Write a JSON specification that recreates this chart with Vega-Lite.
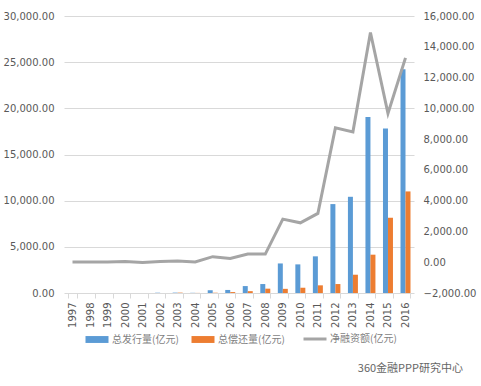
{
  "$schema": "https://vega.github.io/schema/vega-lite/v6.json",
  "width": 350,
  "height": 277,
  "autosize": {"type": "none"},
  "padding": {"left": 64, "top": 16, "right": 67, "bottom": 93},
  "background": "white",
  "config": {
    "font": "Noto Sans CJK SC",
    "view": {"stroke": null},
    "axis": {"labelColor": "#595959", "labelFontSize": 10, "labelFont": "DejaVu Sans"}
  },
  "title": {
    "text": "360金融PPP研究中心",
    "orient": "bottom",
    "anchor": "end",
    "align": "right",
    "frame": "group",
    "fontSize": 11,
    "fontWeight": "normal",
    "color": "#666666",
    "offset": 18,
    "dx": 49
  },
  "data": {
    "values": [
      {"year": "1997", "series": "总发行量(亿元)", "value": 0},
      {"year": "1998", "series": "总发行量(亿元)", "value": 0},
      {"year": "1999", "series": "总发行量(亿元)", "value": 0},
      {"year": "2000", "series": "总发行量(亿元)", "value": 0},
      {"year": "2001", "series": "总发行量(亿元)", "value": 0},
      {"year": "2002", "series": "总发行量(亿元)", "value": 30},
      {"year": "2003", "series": "总发行量(亿元)", "value": 40},
      {"year": "2004", "series": "总发行量(亿元)", "value": 20},
      {"year": "2005", "series": "总发行量(亿元)", "value": 300},
      {"year": "2006", "series": "总发行量(亿元)", "value": 330},
      {"year": "2007", "series": "总发行量(亿元)", "value": 750},
      {"year": "2008", "series": "总发行量(亿元)", "value": 970},
      {"year": "2009", "series": "总发行量(亿元)", "value": 3200},
      {"year": "2010", "series": "总发行量(亿元)", "value": 3100},
      {"year": "2011", "series": "总发行量(亿元)", "value": 3970},
      {"year": "2012", "series": "总发行量(亿元)", "value": 9630},
      {"year": "2013", "series": "总发行量(亿元)", "value": 10420},
      {"year": "2014", "series": "总发行量(亿元)", "value": 19050},
      {"year": "2015", "series": "总发行量(亿元)", "value": 17820},
      {"year": "2016", "series": "总发行量(亿元)", "value": 24240},
      {"year": "1997", "series": "总偿还量(亿元)", "value": 0},
      {"year": "1998", "series": "总偿还量(亿元)", "value": 0},
      {"year": "1999", "series": "总偿还量(亿元)", "value": 0},
      {"year": "2000", "series": "总偿还量(亿元)", "value": 0},
      {"year": "2001", "series": "总偿还量(亿元)", "value": 0},
      {"year": "2002", "series": "总偿还量(亿元)", "value": 0},
      {"year": "2003", "series": "总偿还量(亿元)", "value": 40},
      {"year": "2004", "series": "总偿还量(亿元)", "value": 10},
      {"year": "2005", "series": "总偿还量(亿元)", "value": 30},
      {"year": "2006", "series": "总偿还量(亿元)", "value": 100},
      {"year": "2007", "series": "总偿还量(亿元)", "value": 200},
      {"year": "2008", "series": "总偿还量(亿元)", "value": 470},
      {"year": "2009", "series": "总偿还量(亿元)", "value": 450},
      {"year": "2010", "series": "总偿还量(亿元)", "value": 570},
      {"year": "2011", "series": "总偿还量(亿元)", "value": 830},
      {"year": "2012", "series": "总偿还量(亿元)", "value": 970},
      {"year": "2013", "series": "总偿还量(亿元)", "value": 1980},
      {"year": "2014", "series": "总偿还量(亿元)", "value": 4150},
      {"year": "2015", "series": "总偿还量(亿元)", "value": 8150},
      {"year": "2016", "series": "总偿还量(亿元)", "value": 11000},
      {"year": "1997", "series": "净融资额(亿元)", "value": 10},
      {"year": "1998", "series": "净融资额(亿元)", "value": 10},
      {"year": "1999", "series": "净融资额(亿元)", "value": 10},
      {"year": "2000", "series": "净融资额(亿元)", "value": 50},
      {"year": "2001", "series": "净融资额(亿元)", "value": -20},
      {"year": "2002", "series": "净融资额(亿元)", "value": 40},
      {"year": "2003", "series": "净融资额(亿元)", "value": 80},
      {"year": "2004", "series": "净融资额(亿元)", "value": 20},
      {"year": "2005", "series": "净融资额(亿元)", "value": 360},
      {"year": "2006", "series": "净融资额(亿元)", "value": 250},
      {"year": "2007", "series": "净融资额(亿元)", "value": 530},
      {"year": "2008", "series": "净融资额(亿元)", "value": 530},
      {"year": "2009", "series": "净融资额(亿元)", "value": 2800},
      {"year": "2010", "series": "净融资额(亿元)", "value": 2560},
      {"year": "2011", "series": "净融资额(亿元)", "value": 3170},
      {"year": "2012", "series": "净融资额(亿元)", "value": 8730},
      {"year": "2013", "series": "净融资额(亿元)", "value": 8470},
      {"year": "2014", "series": "净融资额(亿元)", "value": 14930},
      {"year": "2015", "series": "净融资额(亿元)", "value": 9670},
      {"year": "2016", "series": "净融资额(亿元)", "value": 13280}
    ]
  },
  "encoding": {
    "x": {
      "field": "year",
      "type": "nominal",
      "sort": null,
      "scale": {"paddingInner": 0.43, "paddingOuter": 0.2},
      "axis": {
        "title": null,
        "labelAngle": -90,
        "labelAlign": "right",
        "labelBaseline": "middle",
        "labelPadding": 4,
        "domain": false,
        "ticks": true,
        "tickColor": "#D9D9D9",
        "tickSize": 5,
        "tickBand": "extent"
      }
    },
    "color": {
      "field": "series",
      "type": "nominal",
      "scale": {
        "domain": ["总发行量(亿元)", "总偿还量(亿元)", "净融资额(亿元)"],
        "range": ["#5B9BD5", "#ED7D31", "#A5A5A5"]
      },
      "legend": {
        "title": null,
        "orient": "none",
        "legendX": 28,
        "legendY": 318,
        "direction": "horizontal",
        "labelFontSize": 10,
        "labelColor": "#7F7F7F",
        "columnPadding": 12,
        "symbolSize": 529,
        "labelOffset": 10,
        "encode": {
          "symbols": {
            "update": {
              "shape": {"signal": "datum.value == '净融资额(亿元)' ? 'M-1,0H1' : 'M-1,-0.3H1V0.3H-1Z'"},
              "fill": {"signal": "datum.value == '净融资额(亿元)' ? 'transparent' : scale('color', datum.value)"},
              "stroke": {"signal": "scale('color', datum.value)"},
              "strokeWidth": {"signal": "datum.value == '净融资额(亿元)' ? 3 : 0"}
            }
          }
        }
      }
    }
  },
  "layer": [
    {
      "transform": [{"filter": "datum.series != '净融资额(亿元)'"}],
      "mark": {"type": "bar"},
      "encoding": {
        "xOffset": {
          "field": "series",
          "type": "nominal",
          "sort": ["总发行量(亿元)", "总偿还量(亿元)"],
          "scale": {"paddingInner": 0, "paddingOuter": 0}
        },
        "y": {
          "field": "value",
          "type": "quantitative",
          "scale": {"domain": [0, 30000], "nice": false},
          "axis": {
            "title": null,
            "orient": "left",
            "values": [0, 5000, 10000, 15000, 20000, 25000, 30000],
            "format": ",.2f",
            "grid": true,
            "gridColor": "#D9D9D9",
            "domain": false,
            "ticks": false,
            "labelPadding": 10
          }
        }
      }
    },
    {
      "transform": [{"filter": "datum.series == '净融资额(亿元)'"}],
      "mark": {"type": "line", "strokeWidth": 3, "strokeJoin": "miter"},
      "encoding": {
        "y": {
          "field": "value",
          "type": "quantitative",
          "scale": {"domain": [-2000, 16000], "nice": false},
          "axis": {
            "title": null,
            "orient": "right",
            "values": [-2000, 0, 2000, 4000, 6000, 8000, 10000, 12000, 14000, 16000],
            "format": ",.2f",
            "grid": false,
            "domain": false,
            "ticks": false,
            "labelPadding": 9
          }
        }
      }
    }
  ],
  "resolve": {"scale": {"y": "independent"}}
}
